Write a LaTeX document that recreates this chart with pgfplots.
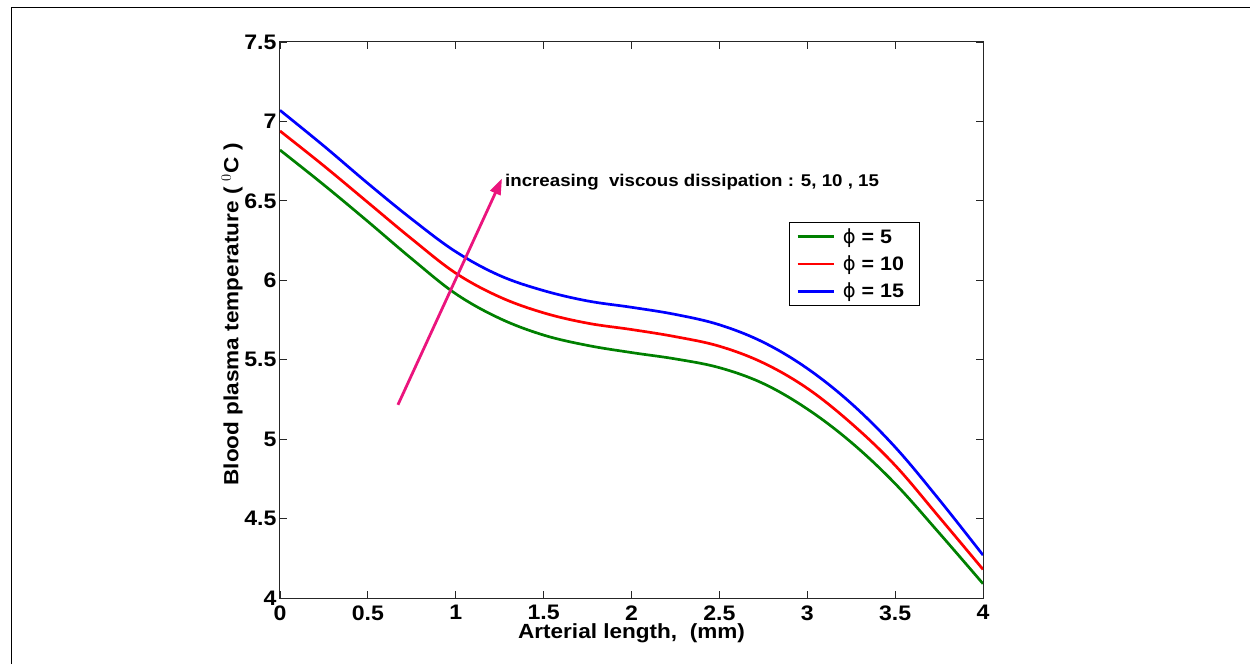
\documentclass[border=0pt]{standalone}
\usepackage{pgfplots}
\pgfplotsset{compat=1.18}
\usepackage{fontspec}
\setmainfont[FakeStretch=1.1]{Liberation Sans}
\newfontfamily\djv{DejaVu Sans}
\usetikzlibrary{arrows.meta}
\definecolor{mgreen}{RGB}{0,128,0}
\definecolor{mred}{RGB}{255,0,0}
\definecolor{mblue}{RGB}{0,0,255}
\definecolor{mpink}{RGB}{235,20,125}
\newcommand{\ph}{{\djv\mdseries ϕ}}
\begin{document}
\begin{tikzpicture}[x=1pt,y=1pt]
\useasboundingbox (-280,-66) rectangle (970,598);
\draw[line width=1.5pt] (-268.5,-66) -- (-268.5,590.5) -- (970,590.5);
\begin{axis}[
  width=703pt, height=556pt, scale only axis,
  xmin=0, xmax=4, ymin=4, ymax=7.5,
  xtick={0,0.5,...,4}, ytick={4,4.5,...,7.5},
  tick align=inside, major tick length=7pt,
  axis line style={black!85, line width=1pt},
  tick style={black!85, line width=0.8pt},
  /pgf/number format/assume math mode=true,
  ticklabel style={font=\fontsize{21}{22}\selectfont\bfseries},
  xticklabel style={yshift=-4pt},
  xlabel={Arterial length,\ \ (mm)},
  ylabel={Blood plasma temperature ( $^0$C )},
  label style={font=\fontsize{20.5}{22}\selectfont\bfseries},
  xlabel style={at={(axis description cs:0.5,-0.064)}, anchor=center},
  ylabel style={at={(axis description cs:-0.068,0.51)}, anchor=center},
  legend style={at={(axis description cs:0.724,0.676)}, anchor=north west,
    draw=black, line width=0.8pt, font=\fontsize{19.5}{20}\selectfont\bfseries,
    inner xsep=7pt, inner ysep=4pt, row sep=7pt,
    nodes={inner xsep=8pt}},
  legend cell align=left,
  legend image code/.code={\draw[#1, line width=2.5pt] (0pt,0pt) -- (36pt,0pt);},
]
\addplot[mgreen, line width=2.7pt, smooth, tension=0.6] coordinates {
(0,6.82) (0.25,6.60) (0.5,6.37) (0.75,6.135) (1,5.915) (1.25,5.76) (1.5,5.655) (1.75,5.59) (2,5.545) (2.25,5.505) (2.5,5.45) (2.75,5.35) (3,5.19) (3.25,4.98) (3.5,4.72) (3.75,4.41) (4,4.09)};
\addlegendentry{\ph\ = 5}
\addplot[mred, line width=2.7pt, smooth, tension=0.6] coordinates {
(0,6.94) (0.25,6.72) (0.5,6.49) (0.75,6.26) (1,6.045) (1.25,5.895) (1.5,5.795) (1.75,5.73) (2,5.69) (2.25,5.645) (2.5,5.585) (2.75,5.48) (3,5.32) (3.25,5.10) (3.5,4.835) (3.75,4.51) (4,4.18)};
\addlegendentry{\ph\ = 10}
\addplot[mblue, line width=2.7pt, smooth, tension=0.6] coordinates {
(0,7.07) (0.25,6.845) (0.5,6.61) (0.75,6.385) (1,6.18) (1.25,6.03) (1.5,5.935) (1.75,5.87) (2,5.83) (2.25,5.785) (2.5,5.72) (2.75,5.61) (3,5.445) (3.25,5.225) (3.5,4.95) (3.75,4.62) (4,4.27)};
\addlegendentry{\ph\ = 15}
\draw[mpink, line width=2.8pt, -{Triangle[length=16pt,width=11pt]}] (axis cs:0.671,5.216) -- (axis cs:1.263,6.64);
\node[anchor=base west, font=\fontsize{17}{18}\selectfont\bfseries, inner sep=0pt] at (axis cs:1.28,6.59) {increasing\ \ viscous dissipation : 5, 10 , 15};
\end{axis}
\end{tikzpicture}
\end{document}
